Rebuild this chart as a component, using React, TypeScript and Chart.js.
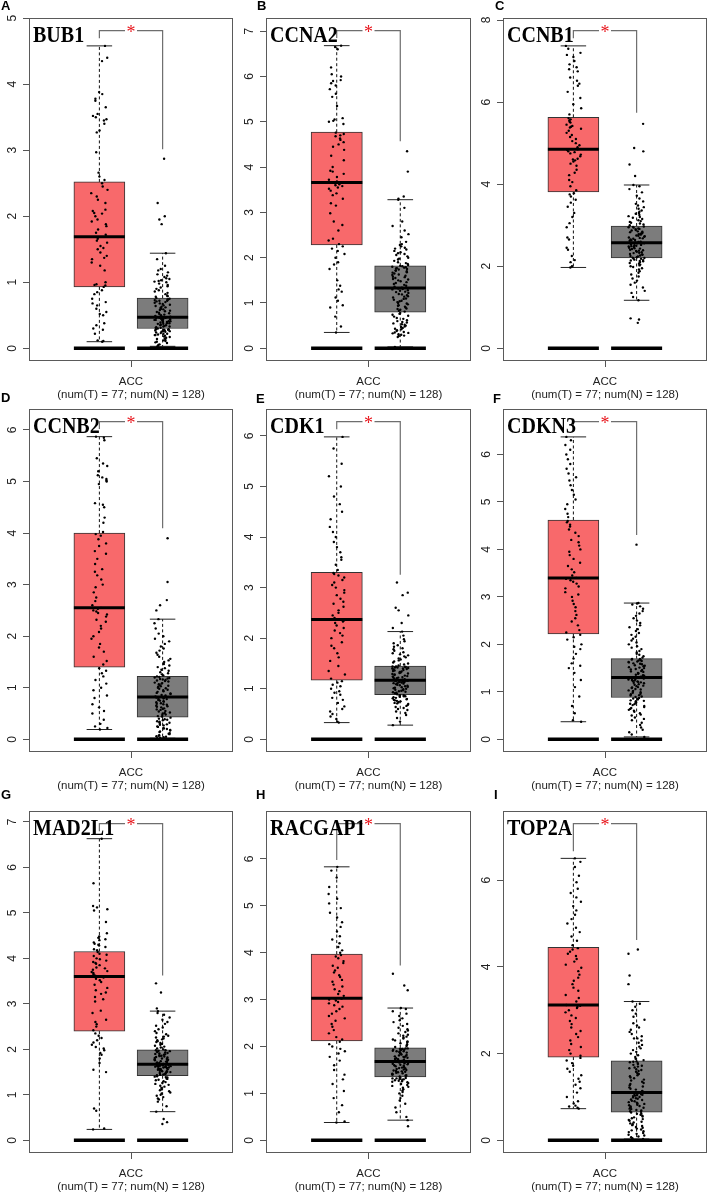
import React, { useEffect, useRef } from 'react';
import { Chart, registerables } from 'chart.js';
Chart.register(...registerables);

// ---------- data ----------
const GENES = ['BUB1', 'CCNA2', 'CCNB1', 'CCNB2', 'CDK1', 'CDKN3', 'MAD2L1', 'RACGAP1', 'TOP2A'];
const PANEL_LETTERS = ['A', 'B', 'C', 'D', 'E', 'F', 'G', 'H', 'I'];
const X_CATEGORY = 'ACC';
const SAMPLE_NOTE = '(num(T) = 77; num(N) = 128)';
const Y_TICKS = [
  [0, 1, 2, 3, 4, 5],
  [0, 1, 2, 3, 4, 5, 6, 7],
  [0, 2, 4, 6, 8],
  [0, 1, 2, 3, 4, 5, 6],
  [0, 1, 2, 3, 4, 5, 6],
  [0, 1, 2, 3, 4, 5, 6],
  [0, 1, 2, 3, 4, 5, 6, 7],
  [0, 1, 2, 3, 4, 5, 6],
  [0, 2, 4, 6],
];
// height of the significance bracket (value units) per panel
const BRACKET_LEVEL = [4.81, 7.01, 7.74, 6.16, 6.28, 6.69, 6.96, 6.75, 7.30];
// [lower whisker, Q1, median, Q3, upper whisker]
const TUMOR_BOX = [
  [0.10, 0.93, 1.69, 2.52, 4.58],
  [0.35, 2.28, 3.66, 4.77, 6.68],
  [1.97, 3.81, 4.85, 5.63, 7.37],
  [0.19, 1.40, 2.55, 4.00, 5.87],
  [0.33, 1.17, 2.37, 3.30, 5.98],
  [0.37, 2.22, 3.40, 4.62, 6.37],
  [0.24, 2.40, 3.60, 4.15, 6.63],
  [0.38, 2.12, 3.03, 3.97, 5.83],
  [0.73, 1.92, 3.12, 4.45, 6.50],
];
const NORMAL_BOX = [
  [0.03, 0.30, 0.47, 0.76, 1.44],
  [0.03, 0.80, 1.33, 1.82, 3.28],
  [1.17, 2.20, 2.57, 2.98, 3.98],
  [0.02, 0.43, 0.82, 1.22, 2.33],
  [0.28, 0.88, 1.17, 1.45, 2.13],
  [0.05, 0.88, 1.30, 1.70, 2.87],
  [0.63, 1.42, 1.67, 1.99, 2.84],
  [0.43, 1.35, 1.68, 1.97, 2.82],
  [0.03, 0.65, 1.10, 1.83, 3.20],
];

const BUB1_TUMOR = [0.10, 0.11, 0.12, 0.22, 0.28, 0.30, 0.35, 0.38, 0.50, 0.52, 0.55, 0.60, 0.65, 0.68, 0.70, 0.75, 0.82, 0.85, 0.88,
  0.93, 0.95, 0.96, 0.97, 1.00, 1.18, 1.25, 1.30, 1.35, 1.37, 1.40, 1.45, 1.50, 1.52, 1.55, 1.60, 1.63, 1.66, 1.69,
  1.72, 1.75, 1.80, 1.85, 1.88, 1.92, 1.95, 2.00, 2.04, 2.05, 2.08, 2.10, 2.20, 2.25, 2.30, 2.35, 2.40, 2.45, 2.50,
  2.55, 2.60, 2.66, 2.97, 3.27, 3.30, 3.40, 3.45, 3.47, 3.50, 3.52, 3.55, 3.65, 3.75, 3.78, 3.85, 3.88, 4.35, 4.40, 4.58];
const BUB1_NORMAL = [0.03, 0.05, 0.06, 0.08, 0.09, 0.10, 0.11, 0.12, 0.13, 0.14, 0.15, 0.16, 0.17, 0.18, 0.19, 0.20, 0.20, 0.21, 0.22, 0.22, 0.23, 0.24, 0.25, 0.25, 0.26, 0.26, 0.27, 0.27, 0.28, 0.28, 0.29, 0.29,
  0.30, 0.31, 0.31, 0.32, 0.33, 0.33, 0.34, 0.35, 0.35, 0.36, 0.37, 0.37, 0.38, 0.38, 0.39, 0.40, 0.40, 0.41, 0.41, 0.42, 0.42, 0.43, 0.43, 0.44, 0.44, 0.45, 0.45, 0.45, 0.46, 0.46, 0.46, 0.47,
  0.48, 0.48, 0.49, 0.50, 0.51, 0.52, 0.53, 0.54, 0.55, 0.56, 0.57, 0.58, 0.59, 0.60, 0.61, 0.62, 0.63, 0.64, 0.65, 0.66, 0.67, 0.68, 0.69, 0.70, 0.71, 0.72, 0.72, 0.73, 0.74, 0.74, 0.75, 0.76,
  0.78, 0.79, 0.80, 0.82, 0.84, 0.86, 0.88, 0.90, 0.92, 0.94, 0.96, 0.98, 1.00, 1.01, 1.02, 1.03, 1.05, 1.06, 1.08, 1.10, 1.12, 1.15, 1.18, 1.20, 1.25, 1.35, 1.44, 1.88, 1.95, 2.00, 2.20, 2.87];

const CCNA2_TUMOR = [0.35, 0.48, 0.70, 0.90, 0.95, 1.05, 1.12, 1.25, 1.30, 1.38, 1.50, 1.75, 1.85, 1.90, 2.00, 2.08, 2.15, 2.20, 2.25,
  2.30, 2.38, 2.42, 2.60, 2.72, 2.80, 2.98, 3.15, 3.20, 3.30, 3.38, 3.42, 3.48, 3.52, 3.55, 3.58, 3.60, 3.62, 3.64, 3.66,
  3.68, 3.72, 3.78, 3.85, 3.90, 3.92, 4.00, 4.15, 4.25, 4.38, 4.45, 4.50, 4.55, 4.60, 4.63, 4.68, 4.70, 4.73, 4.76,
  4.95, 5.00, 5.02, 5.05, 5.08, 5.35, 5.55, 5.62, 5.72, 5.80, 5.85, 5.90, 5.92, 6.00, 6.05, 6.20, 6.60, 6.65, 6.68];
const CCNA2_NORMAL = [0.03, 0.25, 0.27, 0.28, 0.30, 0.31, 0.33, 0.34, 0.35, 0.36, 0.38, 0.40, 0.42, 0.43, 0.45, 0.47, 0.48, 0.50, 0.52, 0.53, 0.55, 0.57, 0.58, 0.60, 0.62, 0.65, 0.67, 0.70, 0.72, 0.74, 0.76, 0.78,
  0.81, 0.83, 0.85, 0.87, 0.88, 0.90, 0.92, 0.94, 0.95, 0.97, 0.99, 1.00, 1.02, 1.04, 1.05, 1.07, 1.09, 1.10, 1.12, 1.14, 1.15, 1.17, 1.19, 1.20, 1.22, 1.24, 1.25, 1.27, 1.28, 1.30, 1.31, 1.32,
  1.34, 1.36, 1.38, 1.40, 1.42, 1.44, 1.46, 1.48, 1.50, 1.52, 1.53, 1.55, 1.57, 1.58, 1.60, 1.62, 1.63, 1.65, 1.67, 1.68, 1.70, 1.71, 1.72, 1.74, 1.75, 1.76, 1.77, 1.78, 1.79, 1.80, 1.81, 1.82,
  1.84, 1.86, 1.88, 1.90, 1.93, 1.96, 1.98, 2.00, 2.03, 2.06, 2.08, 2.10, 2.12, 2.15, 2.18, 2.20, 2.22, 2.25, 2.28, 2.30, 2.35, 2.45, 2.52, 2.60, 2.70, 2.80, 3.10, 3.28, 3.30, 3.35, 3.90, 4.35];

const CCNB1_TUMOR = [1.97, 2.00, 2.10, 2.15, 2.25, 2.40, 2.45, 2.65, 2.70, 2.95, 3.05, 3.20, 3.30, 3.45, 3.55, 3.62, 3.70, 3.75, 3.78,
  3.85, 3.95, 4.05, 4.10, 4.22, 4.28, 4.35, 4.45, 4.50, 4.55, 4.58, 4.60, 4.62, 4.68, 4.72, 4.75, 4.78, 4.80, 4.83, 4.85,
  4.90, 4.95, 5.00, 5.05, 5.10, 5.15, 5.20, 5.25, 5.30, 5.35, 5.38, 5.40, 5.42, 5.45, 5.50, 5.52, 5.55, 5.58, 5.61,
  5.70, 5.85, 5.95, 6.10, 6.25, 6.40, 6.45, 6.52, 6.60, 6.75, 6.80, 6.85, 6.92, 7.00, 7.10, 7.15, 7.20, 7.30, 7.37];
const CCNB1_NORMAL = [0.62, 0.70, 0.73, 1.17, 1.25, 1.35, 1.40, 1.48, 1.55, 1.60, 1.65, 1.70, 1.75, 1.80, 1.84, 1.88, 1.92, 1.95, 1.98, 2.00, 2.02, 2.04, 2.06, 2.08, 2.10, 2.12, 2.13, 2.14, 2.15, 2.16, 2.18, 2.19,
  2.20, 2.21, 2.22, 2.24, 2.25, 2.26, 2.28, 2.29, 2.30, 2.32, 2.33, 2.34, 2.35, 2.37, 2.38, 2.39, 2.40, 2.42, 2.43, 2.44, 2.45, 2.47, 2.48, 2.49, 2.50, 2.51, 2.52, 2.53, 2.54, 2.55, 2.56, 2.56,
  2.58, 2.59, 2.60, 2.62, 2.63, 2.64, 2.65, 2.67, 2.68, 2.69, 2.70, 2.72, 2.73, 2.74, 2.75, 2.77, 2.78, 2.79, 2.80, 2.82, 2.83, 2.84, 2.85, 2.87, 2.88, 2.90, 2.91, 2.92, 2.94, 2.95, 2.96, 2.97,
  3.00, 3.02, 3.04, 3.06, 3.08, 3.10, 3.12, 3.15, 3.18, 3.20, 3.22, 3.25, 3.28, 3.30, 3.33, 3.36, 3.40, 3.44, 3.48, 3.52, 3.58, 3.65, 3.72, 3.80, 3.88, 3.95, 3.98, 4.20, 4.48, 4.80, 4.88, 5.47];

const CCNB2_TUMOR = [0.19, 0.22, 0.25, 0.30, 0.38, 0.50, 0.55, 0.62, 0.68, 0.80, 0.85, 0.95, 1.00, 1.08, 1.15, 1.22, 1.28, 1.33, 1.38,
  1.45, 1.52, 1.60, 1.70, 1.78, 1.85, 1.95, 2.00, 2.08, 2.15, 2.20, 2.28, 2.32, 2.38, 2.42, 2.45, 2.48, 2.50, 2.53, 2.55,
  2.60, 2.68, 2.75, 2.85, 2.95, 3.00, 3.10, 3.18, 3.25, 3.30, 3.40, 3.50, 3.60, 3.65, 3.75, 3.80, 3.88, 3.95, 3.98,
  4.02, 4.20, 4.30, 4.50, 4.55, 4.58, 4.95, 5.00, 5.02, 5.05, 5.08, 5.12, 5.20, 5.30, 5.35, 5.45, 5.80, 5.85, 5.87];
const CCNB2_NORMAL = [0.02, 0.03, 0.04, 0.05, 0.06, 0.07, 0.08, 0.10, 0.11, 0.12, 0.14, 0.15, 0.17, 0.18, 0.20, 0.21, 0.22, 0.24, 0.25, 0.27, 0.28, 0.29, 0.30, 0.32, 0.33, 0.34, 0.35, 0.37, 0.38, 0.39, 0.40, 0.42,
  0.44, 0.45, 0.47, 0.48, 0.50, 0.51, 0.52, 0.54, 0.55, 0.57, 0.58, 0.59, 0.60, 0.62, 0.63, 0.64, 0.65, 0.67, 0.68, 0.69, 0.70, 0.72, 0.73, 0.74, 0.75, 0.76, 0.77, 0.78, 0.79, 0.80, 0.81, 0.81,
  0.83, 0.85, 0.86, 0.88, 0.89, 0.90, 0.92, 0.93, 0.95, 0.96, 0.98, 0.99, 1.00, 1.02, 1.03, 1.04, 1.05, 1.07, 1.08, 1.09, 1.10, 1.12, 1.13, 1.14, 1.15, 1.16, 1.17, 1.18, 1.19, 1.20, 1.21, 1.22,
  1.24, 1.26, 1.28, 1.30, 1.33, 1.35, 1.38, 1.40, 1.43, 1.46, 1.50, 1.53, 1.56, 1.60, 1.64, 1.68, 1.72, 1.76, 1.80, 1.85, 1.90, 1.95, 2.00, 2.05, 2.15, 2.25, 2.33, 2.50, 2.60, 2.70, 3.05, 3.90];

const CDK1_TUMOR = [0.33, 0.35, 0.40, 0.45, 0.50, 0.55, 0.60, 0.65, 0.72, 0.78, 0.82, 0.88, 0.92, 0.95, 1.00, 1.05, 1.08, 1.12, 1.15,
  1.20, 1.28, 1.35, 1.45, 1.55, 1.62, 1.70, 1.80, 1.85, 1.92, 2.00, 2.05, 2.10, 2.15, 2.20, 2.25, 2.30, 2.33, 2.35, 2.37,
  2.40, 2.45, 2.50, 2.55, 2.62, 2.68, 2.72, 2.78, 2.85, 2.90, 2.95, 3.00, 3.05, 3.10, 3.15, 3.20, 3.24, 3.27, 3.29,
  3.35, 3.45, 3.55, 3.60, 3.70, 3.80, 3.90, 4.00, 4.10, 4.20, 4.35, 4.50, 4.65, 4.80, 5.00, 5.20, 5.45, 5.75, 5.98];
const CDK1_NORMAL = [0.28, 0.35, 0.42, 0.48, 0.52, 0.55, 0.58, 0.60, 0.62, 0.64, 0.66, 0.68, 0.70, 0.71, 0.72, 0.73, 0.74, 0.75, 0.76, 0.77, 0.78, 0.79, 0.80, 0.81, 0.82, 0.83, 0.84, 0.85, 0.85, 0.86, 0.87, 0.87,
  0.89, 0.90, 0.91, 0.92, 0.93, 0.94, 0.95, 0.96, 0.97, 0.98, 0.99, 1.00, 1.01, 1.02, 1.03, 1.04, 1.05, 1.06, 1.07, 1.08, 1.09, 1.10, 1.11, 1.11, 1.12, 1.13, 1.13, 1.14, 1.15, 1.15, 1.16, 1.16,
  1.18, 1.19, 1.20, 1.21, 1.22, 1.22, 1.23, 1.24, 1.25, 1.26, 1.27, 1.28, 1.29, 1.30, 1.31, 1.32, 1.33, 1.34, 1.35, 1.36, 1.37, 1.38, 1.39, 1.40, 1.40, 1.41, 1.42, 1.42, 1.43, 1.43, 1.44, 1.44,
  1.46, 1.48, 1.50, 1.52, 1.54, 1.56, 1.58, 1.60, 1.62, 1.64, 1.66, 1.68, 1.70, 1.72, 1.75, 1.78, 1.80, 1.83, 1.86, 1.90, 1.94, 1.98, 2.05, 2.13, 2.20, 2.30, 2.45, 2.55, 2.60, 2.85, 2.90, 3.10];

const CDKN3_TUMOR = [0.37, 0.40, 0.55, 0.70, 0.90, 1.10, 1.25, 1.40, 1.50, 1.55, 1.60, 1.70, 1.80, 1.90, 1.95, 2.00, 2.10, 2.15, 2.20,
  2.25, 2.30, 2.40, 2.48, 2.55, 2.62, 2.70, 2.78, 2.85, 2.92, 3.00, 3.05, 3.10, 3.18, 3.22, 3.28, 3.32, 3.35, 3.38, 3.40,
  3.45, 3.52, 3.58, 3.65, 3.72, 3.80, 3.88, 3.95, 4.00, 4.08, 4.15, 4.20, 4.28, 4.35, 4.42, 4.48, 4.52, 4.57, 4.60,
  4.68, 4.75, 4.85, 4.95, 5.05, 5.15, 5.25, 5.35, 5.45, 5.52, 5.60, 5.70, 5.80, 5.90, 6.00, 6.10, 6.20, 6.30, 6.37];
const CDKN3_NORMAL = [0.05, 0.10, 0.15, 0.20, 0.25, 0.30, 0.35, 0.40, 0.43, 0.46, 0.50, 0.52, 0.55, 0.58, 0.60, 0.62, 0.64, 0.66, 0.68, 0.70, 0.72, 0.74, 0.75, 0.77, 0.78, 0.80, 0.81, 0.82, 0.84, 0.85, 0.86, 0.87,
  0.89, 0.90, 0.92, 0.93, 0.95, 0.96, 0.98, 0.99, 1.00, 1.02, 1.03, 1.05, 1.06, 1.08, 1.09, 1.10, 1.12, 1.13, 1.15, 1.16, 1.18, 1.19, 1.20, 1.21, 1.22, 1.23, 1.24, 1.25, 1.26, 1.27, 1.28, 1.29,
  1.31, 1.32, 1.34, 1.35, 1.36, 1.38, 1.39, 1.40, 1.42, 1.43, 1.44, 1.46, 1.47, 1.48, 1.50, 1.51, 1.52, 1.54, 1.55, 1.56, 1.58, 1.59, 1.60, 1.62, 1.63, 1.64, 1.65, 1.66, 1.67, 1.68, 1.69, 1.69,
  1.72, 1.75, 1.78, 1.80, 1.83, 1.86, 1.90, 1.93, 1.96, 2.00, 2.04, 2.08, 2.12, 2.16, 2.20, 2.24, 2.28, 2.32, 2.36, 2.40, 2.45, 2.50, 2.55, 2.60, 2.65, 2.70, 2.75, 2.80, 2.84, 2.86, 2.87, 4.10];

const MAD2L1_TUMOR = [0.24, 0.26, 0.65, 0.70, 1.50, 1.55, 1.70, 1.80, 1.88, 1.92, 1.98, 2.02, 2.05, 2.10, 2.15, 2.20, 2.25, 2.30, 2.35,
  2.42, 2.50, 2.55, 2.60, 2.65, 2.80, 2.85, 3.05, 3.10, 3.15, 3.22, 3.25, 3.30, 3.35, 3.42, 3.48, 3.52, 3.55, 3.58, 3.60,
  3.62, 3.65, 3.68, 3.70, 3.72, 3.75, 3.78, 3.80, 3.85, 3.88, 3.90, 3.92, 3.95, 3.98, 4.00, 4.05, 4.08, 4.10, 4.14,
  4.18, 4.20, 4.25, 4.28, 4.30, 4.32, 4.35, 4.40, 4.42, 4.45, 4.48, 4.55, 4.80, 5.05, 5.08, 5.12, 5.15, 5.65, 6.63];
const MAD2L1_NORMAL = [0.36, 0.40, 0.47, 0.63, 0.75, 0.85, 0.90, 0.92, 0.95, 0.98, 1.00, 1.03, 1.05, 1.08, 1.10, 1.12, 1.15, 1.18, 1.20, 1.22, 1.24, 1.26, 1.28, 1.30, 1.32, 1.33, 1.35, 1.36, 1.38, 1.39, 1.40, 1.41,
  1.43, 1.44, 1.45, 1.46, 1.47, 1.48, 1.49, 1.50, 1.51, 1.52, 1.52, 1.53, 1.54, 1.55, 1.56, 1.57, 1.57, 1.58, 1.59, 1.60, 1.60, 1.61, 1.62, 1.62, 1.63, 1.63, 1.64, 1.64, 1.65, 1.65, 1.66, 1.66,
  1.68, 1.69, 1.70, 1.71, 1.72, 1.73, 1.74, 1.75, 1.76, 1.77, 1.78, 1.79, 1.80, 1.81, 1.82, 1.83, 1.84, 1.85, 1.86, 1.87, 1.88, 1.89, 1.90, 1.91, 1.92, 1.93, 1.94, 1.95, 1.96, 1.97, 1.98, 1.98,
  2.00, 2.02, 2.04, 2.06, 2.08, 2.10, 2.12, 2.14, 2.16, 2.18, 2.20, 2.22, 2.24, 2.26, 2.28, 2.30, 2.33, 2.36, 2.40, 2.44, 2.48, 2.52, 2.56, 2.60, 2.65, 2.70, 2.76, 2.80, 2.84, 2.90, 3.25, 3.45];

const RACGAP1_TUMOR = [0.38, 0.40, 0.60, 0.75, 0.90, 1.05, 1.20, 1.30, 1.40, 1.50, 1.60, 1.70, 1.78, 1.85, 1.90, 1.95, 2.00, 2.05, 2.10,
  2.15, 2.20, 2.28, 2.35, 2.42, 2.48, 2.55, 2.60, 2.65, 2.70, 2.75, 2.80, 2.85, 2.88, 2.92, 2.95, 2.98, 3.00, 3.02, 3.03,
  3.08, 3.12, 3.18, 3.22, 3.28, 3.32, 3.38, 3.42, 3.48, 3.52, 3.58, 3.62, 3.68, 3.72, 3.78, 3.82, 3.88, 3.92, 3.95,
  4.00, 4.05, 4.12, 4.20, 4.28, 4.35, 4.45, 4.55, 4.65, 4.75, 4.85, 4.95, 5.05, 5.15, 5.25, 5.40, 5.60, 5.75, 5.83];
const RACGAP1_NORMAL = [0.30, 0.43, 0.50, 0.60, 0.70, 0.78, 0.85, 0.90, 0.95, 1.00, 1.03, 1.06, 1.09, 1.12, 1.14, 1.16, 1.18, 1.20, 1.22, 1.24, 1.25, 1.26, 1.27, 1.28, 1.29, 1.30, 1.31, 1.32, 1.32, 1.33, 1.33, 1.34,
  1.36, 1.37, 1.38, 1.39, 1.40, 1.41, 1.42, 1.43, 1.44, 1.45, 1.46, 1.47, 1.48, 1.49, 1.50, 1.51, 1.52, 1.53, 1.54, 1.55, 1.56, 1.57, 1.58, 1.59, 1.60, 1.61, 1.62, 1.63, 1.64, 1.65, 1.66, 1.67,
  1.69, 1.70, 1.71, 1.72, 1.73, 1.74, 1.75, 1.76, 1.77, 1.78, 1.79, 1.80, 1.81, 1.82, 1.83, 1.84, 1.85, 1.86, 1.87, 1.88, 1.89, 1.90, 1.90, 1.91, 1.92, 1.93, 1.93, 1.94, 1.95, 1.95, 1.96, 1.96,
  1.99, 2.01, 2.03, 2.05, 2.07, 2.09, 2.11, 2.13, 2.15, 2.17, 2.19, 2.21, 2.23, 2.25, 2.28, 2.31, 2.34, 2.37, 2.40, 2.44, 2.48, 2.52, 2.56, 2.60, 2.65, 2.70, 2.75, 2.80, 2.82, 3.20, 3.30, 3.55];

const TOP2A_TUMOR = [0.73, 0.75, 0.78, 0.80, 0.85, 0.90, 1.00, 1.10, 1.20, 1.28, 1.35, 1.42, 1.50, 1.58, 1.65, 1.72, 1.78, 1.84, 1.90,
  1.95, 2.00, 2.08, 2.15, 2.22, 2.30, 2.38, 2.45, 2.52, 2.60, 2.68, 2.75, 2.82, 2.88, 2.95, 3.00, 3.05, 3.08, 3.10, 3.12,
  3.20, 3.28, 3.35, 3.45, 3.52, 3.60, 3.68, 3.75, 3.82, 3.90, 3.98, 4.05, 4.12, 4.18, 4.25, 4.30, 4.35, 4.40, 4.43,
  4.50, 4.60, 4.70, 4.80, 4.90, 5.00, 5.10, 5.20, 5.30, 5.40, 5.50, 5.60, 5.70, 5.80, 5.95, 6.10, 6.30, 6.42, 6.50];
const TOP2A_NORMAL = [0.03, 0.05, 0.07, 0.09, 0.11, 0.13, 0.15, 0.17, 0.19, 0.21, 0.23, 0.25, 0.27, 0.29, 0.31, 0.33, 0.35, 0.37, 0.39, 0.41, 0.43, 0.45, 0.47, 0.49, 0.51, 0.53, 0.55, 0.57, 0.59, 0.61, 0.62, 0.64,
  0.66, 0.67, 0.69, 0.70, 0.72, 0.73, 0.75, 0.76, 0.78, 0.79, 0.81, 0.82, 0.84, 0.85, 0.87, 0.88, 0.90, 0.91, 0.93, 0.94, 0.96, 0.97, 0.99, 1.00, 1.02, 1.03, 1.04, 1.05, 1.06, 1.07, 1.08, 1.09,
  1.12, 1.14, 1.17, 1.19, 1.22, 1.24, 1.27, 1.30, 1.32, 1.35, 1.38, 1.40, 1.43, 1.45, 1.48, 1.50, 1.53, 1.55, 1.58, 1.60, 1.62, 1.64, 1.66, 1.68, 1.70, 1.72, 1.74, 1.76, 1.78, 1.80, 1.81, 1.82,
  1.85, 1.88, 1.92, 1.96, 2.00, 2.04, 2.08, 2.12, 2.16, 2.20, 2.25, 2.30, 2.35, 2.35, 2.40, 2.45, 2.50, 2.55, 2.60, 2.65, 2.70, 2.78, 2.85, 2.92, 3.00, 3.08, 3.15, 3.20, 3.60, 3.80, 4.30, 4.40];

const TUMOR_POINTS = [BUB1_TUMOR, CCNA2_TUMOR, CCNB1_TUMOR, CCNB2_TUMOR, CDK1_TUMOR, CDKN3_TUMOR, MAD2L1_TUMOR, RACGAP1_TUMOR, TOP2A_TUMOR];
const NORMAL_POINTS = [BUB1_NORMAL, CCNA2_NORMAL, CCNB1_NORMAL, CCNB2_NORMAL, CDK1_NORMAL, CDKN3_NORMAL, MAD2L1_NORMAL, RACGAP1_NORMAL, TOP2A_NORMAL];

// ---------- layout / style ----------
const COL_LEFT = [0, 237, 474];
const FRAME_W = [204, 205, 204];
const ROW_TOP = [0, 391, 793];
const FRAME_H = [343, 343, 342];
const PAD_TOP = 18;
const Y_AXIS_W = 29;
const X_AXIS_H = 39;
const X_T = 0.345;
const X_N = 0.655;
const BOX_FRAC = 0.25;
const JITTER = 0.04;
const RED = '#F8696B';
const GREY = '#7C7C7C';
const SANS = '"Liberation Sans", Arial, sans-serif';
const SERIF = '"Liberation Serif", "Times New Roman", serif';

const LETTER_POS: [number, number][] = [
  [1, -2], [257, -2], [495, -2],
  [1, 390], [256, 391], [493, 391],
  [1, 787], [256, 787], [494, 787],
];

// deterministic horizontal scatter (position only, not data)
function jitter(i: number, seed: number) {
  const s = Math.sin((i + 1) * 12.9898 + seed * 78.233) * 43758.5453;
  const f = s - Math.floor(s);
  return (f - 0.5) * 2 * JITTER;
}

const panelPlugin = {
  id: 'panelDecor',
  afterDatasetsDraw(chart: any) {
    const { ctx, chartArea, scales } = chart;
    const o = chart.options.plugins.panelDecor;
    const ax = scales.x.getPixelForValue(0.5);
    const ay = scales.y.getPixelForValue(o.bracketTop);
    ctx.save();
    ctx.fillStyle = '#ffffff';
    ctx.fillRect(ax - 6, ay - 3, 12, 6);
    ctx.fillStyle = '#E8141B';
    ctx.font = `18px ${SERIF}`;
    ctx.textAlign = 'center';
    ctx.textBaseline = 'middle';
    ctx.fillText('*', ax, ay + 3);
    ctx.restore();
    ctx.save();
    ctx.fillStyle = '#000';
    ctx.font = `bold 23px ${SERIF}`;
    ctx.textAlign = 'left';
    ctx.textBaseline = 'alphabetic';
    ctx.translate(chartArea.left + 4, chartArea.top + 24);
    ctx.scale(0.87, 1);
    ctx.fillText(o.gene, 0, 0);
    ctx.restore();
  },
  afterDraw(chart: any) {
    const { ctx, chartArea, scales } = chart;
    ctx.save();
    ctx.strokeStyle = '#5a5a5a';
    ctx.lineWidth = 1;
    ctx.strokeRect(chartArea.left + 0.5, chartArea.top + 0.5, chartArea.right - chartArea.left - 1, chartArea.bottom - chartArea.top - 1);
    ctx.fillStyle = '#222';
    ctx.font = `12px ${SANS}`;
    ctx.textAlign = 'center';
    ctx.textBaseline = 'middle';
    scales.y.ticks.forEach((t: any) => {
      const y = scales.y.getPixelForValue(t.value);
      ctx.save();
      ctx.translate(chartArea.left - 16, y);
      ctx.rotate(-Math.PI / 2);
      ctx.fillText(String(t.value), 0, 0);
      ctx.restore();
    });
    const cx = scales.x.getPixelForValue(0.5);
    ctx.font = `11.5px ${SANS}`;
    ctx.fillText(X_CATEGORY, cx, chartArea.bottom + 21);
    ctx.fillText(SAMPLE_NOTE, cx, chartArea.bottom + 34);
    ctx.restore();
  },
};

function Panel({ idx }: { idx: number }) {
  const ref = useRef<HTMLCanvasElement>(null);
  const row = Math.floor(idx / 3);
  const col = idx % 3;
  const fw = FRAME_W[col];
  const fh = FRAME_H[row];
  const w = Y_AXIS_W + fw;
  const h = PAD_TOP + fh + X_AXIS_H;

  useEffect(() => {
    if (!ref.current) return;
    const tPts = TUMOR_POINTS[idx];
    const nPts = NORMAL_POINTS[idx];
    const maxT = Math.max(...tPts);
    const maxN = Math.max(...nPts);
    const bracketTop = BRACKET_LEVEL[idx];
    const yMin = -0.04 * bracketTop;
    const yMax = 1.04 * bracketTop;
    const tb = TUMOR_BOX[idx];
    const nb = NORMAL_BOX[idx];
    const boxPx = fw * BOX_FRAC;
    const half = boxPx / 2;

    const points = [
      ...tPts.map((v, i) => ({ x: X_T + jitter(i, 0.37 + idx), y: v })),
      ...nPts.map((v, i) => ({ x: X_N + jitter(i, 5.11 + idx), y: v })),
    ];
    const whiskers = [
      { x: X_T, y: tb[3] }, { x: X_T, y: tb[4] }, { x: X_T, y: null },
      { x: X_T, y: tb[1] }, { x: X_T, y: tb[0] }, { x: X_T, y: null },
      { x: X_N, y: nb[3] }, { x: X_N, y: nb[4] }, { x: X_N, y: null },
      { x: X_N, y: nb[1] }, { x: X_N, y: nb[0] },
    ];

    const chart = new Chart(ref.current, {
      type: 'scatter',
      data: {
        datasets: [
          {
            type: 'bar',
            data: [{ x: X_T, y: [tb[1], tb[3]] }, { x: X_N, y: [nb[1], nb[3]] }] as any,
            backgroundColor: [RED, GREY],
            borderColor: '#333',
            borderWidth: 1,
            borderSkipped: false,
            barThickness: boxPx,
            order: 6,
          } as any,
          {
            type: 'line',
            data: whiskers as any,
            borderColor: '#111',
            borderWidth: 1,
            borderDash: [3, 2.5],
            pointRadius: 0,
            spanGaps: false,
            fill: false,
            order: 5,
          },
          {
            type: 'scatter',
            data: [{ x: X_T, y: tb[0] }, { x: X_T, y: tb[4] }, { x: X_N, y: nb[0] }, { x: X_N, y: nb[4] }],
            pointStyle: 'line',
            pointRadius: half / 2,
            pointBorderWidth: 1,
            pointBorderColor: '#222',
            order: 4,
          },
          {
            type: 'scatter',
            data: [{ x: X_T, y: 0 }, { x: X_N, y: 0 }],
            pointStyle: 'line',
            pointRadius: half,
            pointBorderWidth: 3.5,
            pointBorderColor: '#000',
            order: 3,
          },
          {
            type: 'scatter',
            data: points,
            pointRadius: 1.2,
            pointBackgroundColor: '#000',
            pointBorderWidth: 0,
            order: 2,
          },
          {
            type: 'scatter',
            data: [{ x: X_T, y: tb[2] }, { x: X_N, y: nb[2] }],
            pointStyle: 'line',
            pointRadius: half,
            pointBorderWidth: 3,
            pointBorderColor: '#000',
            order: 1,
          },
          {
            type: 'line',
            data: [
              { x: X_T, y: maxT * 1.025 }, { x: X_T, y: bracketTop },
              { x: X_N, y: bracketTop }, { x: X_N, y: maxN * 1.05 },
            ] as any,
            borderColor: '#6e6e6e',
            borderWidth: 1.2,
            pointRadius: 0,
            fill: false,
            order: 0,
          },
        ],
      },
      options: {
        responsive: false,
        maintainAspectRatio: false,
        animation: false,
        devicePixelRatio: 1,
        events: [],
        layout: { padding: { top: PAD_TOP, left: 0, right: 0, bottom: 0 }, autoPadding: false },
        plugins: {
          legend: { display: false },
          tooltip: { enabled: false },
          panelDecor: { gene: GENES[idx], bracketTop },
        } as any,
        scales: {
          x: {
            type: 'linear',
            min: 0,
            max: 1,
            offset: false,
            afterBuildTicks: (s: any) => { s.ticks = [{ value: 0.5 }]; },
            afterFit: (s: any) => { s.height = X_AXIS_H; },
            grid: { drawOnChartArea: false, drawTicks: true, tickLength: 6, color: '#555', offset: false },
            border: { display: false },
            ticks: { display: false },
          },
          y: {
            type: 'linear',
            min: yMin,
            max: yMax,
            afterBuildTicks: (s: any) => { s.ticks = Y_TICKS[idx].map((v) => ({ value: v })); },
            afterFit: (s: any) => { s.width = Y_AXIS_W; },
            grid: { drawOnChartArea: false, drawTicks: true, tickLength: 6, color: '#555' },
            border: { display: false },
            ticks: { display: false },
          },
        },
      } as any,
      plugins: [panelPlugin],
    });
    return () => chart.destroy();
  }, [idx]);

  return (
    <canvas
      ref={ref}
      width={w}
      height={h}
      style={{ position: 'absolute', left: COL_LEFT[col], top: ROW_TOP[row], width: w, height: h }}
    />
  );
}

export default function App() {
  return (
    <div style={{ position: 'absolute', left: 0, top: 0, width: 709, height: 1195, overflow: 'hidden', background: '#fff' }}>
      {GENES.map((g, i) => <Panel key={g} idx={i} />)}
      {PANEL_LETTERS.map((l, i) => (
        <div
          key={l}
          style={{
            position: 'absolute', left: LETTER_POS[i][0], top: LETTER_POS[i][1],
            font: `bold 13px ${SANS}`, color: '#000', lineHeight: '15px',
          }}
        >
          {l}
        </div>
      ))}
    </div>
  );
}
